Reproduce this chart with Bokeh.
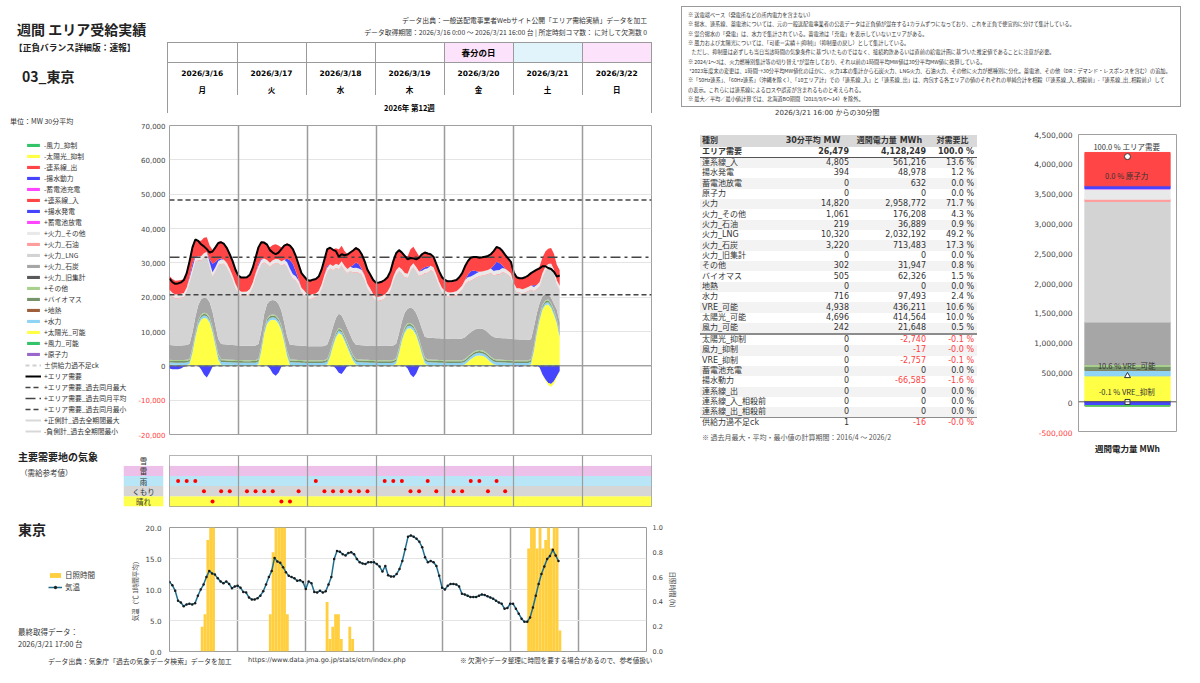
import pandas as pd
from bokeh.plotting import figure
from bokeh.models import (ColumnDataSource, Legend, LegendItem, Div, Range1d, FactorRange,
                          SingleIntervalTicker, FixedTicker, NumeralTickFormatter, LinearAxis,
                          DaysTicker, Span, Spacer)
from bokeh.layouts import row, column
from bokeh.core.properties import value
from bokeh.embed import file_html
from bokeh.resources import INLINE

# ------------------------------------------------------------------ data
dates = ["2026/3/16", "2026/3/17", "2026/3/18", "2026/3/19", "2026/3/20", "2026/3/21", "2026/3/22"]
weekdays = ["月", "火", "水", "木", "金", "土", "日"]
holiday_labels = ["", "", "", "", "春分の日", "", ""]
week_label = "2026年 第12週"

main_y_range = (-20000, 70000)
main_ticks_pos = [0, 10000, 20000, 30000, 40000, 50000, 60000, 70000]
main_ticks_neg = [-10000, -20000]
bar_y_range = (-500000, 4500000)
bar_ticks_pos = [0, 500000, 1000000, 1500000, 2000000, 2500000, 3000000, 3500000, 4000000, 4500000]
bar_ticks_neg = [-500000]

# area demand, MW, hourly readings from 3/16 0:00 to 3/21 16:00
d1 = [25400,24400,23900,24000,24300,25000,27000,30500,34500,36800,36400,35400,34800,34000,33000,33300,34500,35800,36000,35500,34300,32500,30500,28000]
d2 = [26300,25700,25700,25800,26500,28500,31500,34500,36000,35900,35300,33700,33000,32500,33000,34000,35000,35400,35000,34000,32000,29500,27000,26000]
d3 = [25000,24800,25100,25300,26000,28000,31000,34000,34400,33800,33400,31800,32500,32200,32400,33000,33600,34300,33800,32500,30500,28000,26500,25000]
d4 = [24200,24300,24500,25000,25800,27500,30500,32800,33700,33000,32000,31000,31400,31300,31000,31500,32500,33000,32700,32500,31800,29700,27500,25800]
d5 = [25000,24600,24600,24800,25000,25800,27000,29000,30500,31500,31700,31700,31500,31600,31800,32000,32500,33400,34600,34300,33500,32300,31300,30300]
d6 = [27200,25800,25500,25500,25800,26300,27000,27500,28000,28400,29000,29000,28500,28200,27400,26000,26300]

# wind (available)
w1 = [320,300,290,280,260,250,240,220,200,190,200,220,240,260,270,280,290,300,300,310,300,290,280,270]
w2 = [260,250,240,230,220,210,200,200,190,200,210,230,250,260,270,270,260,250,250,240,230,220,210,200]
w3 = [200,190,190,180,180,170,170,180,190,210,230,250,270,280,290,290,280,270,260,250,240,240,230,230]
w4 = [220,220,210,210,200,200,190,190,200,220,240,260,280,290,300,300,290,280,270,260,250,240,230,220]
w5 = [210,200,200,190,190,180,180,190,200,210,220,230,240,240,250,250,240,240,230,230,220,220,210,210]
w6 = [200,200,190,190,180,180,190,210,240,270,300,320,330,330,320,300,280]

# solar (available)
s1 = [0,0,0,0,0,0,0,300,3500,8000,11500,13200,13700,13500,12300,9500,5500,1500,0,0,0,0,0,0]
s2 = [0,0,0,0,0,0,0,300,4000,9000,12000,13000,13200,13000,12000,10000,6500,2500,0,0,0,0,0,0]
s3 = [0,0,0,0,0,0,0,300,2500,5500,8000,9300,8800,7000,5000,3000,1200,100,0,0,0,0,0,0]
s4 = [0,0,0,0,0,0,0,500,3500,7000,9500,10600,10700,10000,8500,6000,3000,500,0,0,0,0,0,0]
s5 = [0,0,0,0,0,0,0,300,1000,1700,2300,2700,2800,2700,2300,1600,800,200,0,0,0,0,0,0]
s6 = [0,0,0,0,0,0,300,4000,9000,13000,16000,17300,17500,16500,14500,12000,8000]

# hydro
hy1 = [650,640,630,630,640,660,700,760,800,780,740,720,700,700,720,760,800,820,820,800,760,720,690,670]
hy2 = [660,650,640,640,650,670,710,770,800,780,740,720,700,700,720,760,800,820,820,800,760,720,690,670]
hy3 = [660,650,640,640,650,670,710,760,790,770,740,720,700,700,720,750,790,810,810,790,750,720,690,670]
hy4 = [650,640,630,630,640,660,700,750,780,760,730,710,700,700,710,740,780,800,800,780,750,720,690,670]
hy5 = [660,650,640,640,650,660,690,720,750,760,760,760,760,760,760,770,790,810,810,790,760,730,700,680]
hy6 = [660,650,640,640,650,660,690,720,740,720,700,690,680,680,690,700,720]

# biomass
b1 = [490,490,485,485,490,495,500,505,510,510,510,510,510,510,510,510,510,510,510,505,500,500,495,490]
b2 = [490,490,490,485,490,495,500,505,510,515,515,515,510,510,510,510,510,510,505,505,500,500,495,495]
b3 = [495,490,490,490,490,495,500,505,510,510,510,510,505,505,505,505,510,510,510,505,500,500,495,490]
b4 = [490,490,490,490,490,495,500,505,505,510,510,510,510,510,510,510,510,510,505,505,500,500,495,490]
b5 = [490,485,485,485,485,490,495,500,500,505,505,505,505,505,505,505,505,505,505,500,500,495,495,490]
b6 = [490,490,485,485,485,490,495,500,505,505,505,505,505,505,505,505,505]

# other
o1 = [280,280,280,280,280,290,300,310,320,320,320,320,320,320,320,320,320,310,310,300,300,290,290,280]
o2 = [280,280,280,280,285,290,300,310,320,320,325,325,320,320,320,320,320,315,310,305,300,290,290,285]
o3 = [280,280,275,275,280,290,300,310,315,320,320,320,320,320,320,320,315,310,310,300,300,290,285,280]
o4 = [280,280,280,280,280,290,300,310,320,320,320,320,320,320,320,320,320,310,305,300,295,290,285,280]
o5 = [275,275,275,275,275,280,285,290,295,300,300,300,300,300,300,300,300,300,295,295,290,285,280,280]
o6 = [275,270,270,270,270,275,280,285,290,295,295,295,295,295,295,295,295]

# coal
c1 = [4300,4300,4250,4250,4250,4300,4300,4350,4400,4400,4400,4400,4400,4400,4400,4400,4400,4400,4400,4400,4350,4300,4300,4300]
c2 = [4200,4200,4200,4200,4200,4200,4200,4250,4250,4250,4200,4200,4200,4200,4200,4200,4200,4250,4250,4250,4200,4200,4200,4200]
c3 = [4100,4100,4100,4100,4100,4100,4100,4150,4150,4100,4100,4100,4100,4100,4100,4100,4100,4150,4150,4150,4100,4100,4100,4100]
c4 = [4200,4200,4200,4200,4200,4200,4200,4200,4200,4200,4200,4200,4500,4700,5000,5400,5800,6100,6300,6300,6300,6300,6300,6300]
c5 = [6300,6300,6250,6250,6250,6300,6300,6350,6350,6300,6300,6300,6300,6300,6300,6300,6300,6350,6350,6300,6300,6300,6250,6250]
c6 = [6100,6100,6100,6100,6100,6000,5800,5500,4500,3500,2500,1800,1500,1500,1800,2500,3000]

# LNG
l1 = [14850,14050,13600,13700,13800,13950,15450,17800,17550,16050,12950,11250,11650,12250,10250,10150,15550,21350,23250,23250,22400,20850,18950,16650]
l2 = [15050,14450,14450,14550,15250,17050,19750,21450,19450,14850,11550,9750,10250,10850,11750,13050,16950,20150,20750,19250,18750,17650,15550,14750]
l3 = [13850,13650,13950,14150,14850,16650,19350,21050,19750,16350,14550,12850,14450,14950,15950,18550,19950,21050,20950,20550,19050,16650,15350,13850]
l4 = [12950,13050,13250,13750,14550,16050,18750,20050,17950,13750,10250,8950,10650,12050,12150,12850,15650,18350,18850,19650,19250,17350,15150,13450]
l5 = [12650,12250,12250,12450,12650,13250,14150,15350,15350,14950,14750,14850,15150,15350,15950,16850,18050,17850,18250,18450,19050,18950,18450,17750]
l6 = [15050,13650,13650,13350,13650,14050,14350,10450,6950,4850,5450,6650,7550,8750,8750,7350,9250]

# oil
oi1 = [190,190,190,190,190,200,210,220,220,210,200,200,200,200,200,210,220,230,230,220,210,200,200,190]
oi2 = [190,190,190,190,190,200,210,220,230,220,200,200,200,200,200,210,220,230,230,220,210,200,200,190]
oi3 = [190,190,190,190,190,200,210,220,220,210,200,200,200,200,200,210,220,230,230,220,210,200,200,190]
oi4 = [190,190,190,190,190,200,210,220,220,210,200,200,200,200,200,210,220,230,230,220,210,200,200,190]
oi5 = [190,190,190,190,190,195,200,205,210,210,210,210,210,210,210,210,215,220,230,225,215,205,200,195]
oi6 = [190,190,190,190,190,195,200,210,210,200,190,190,190,190,190,200,210]

# thermal other
to1 = [1080,1070,1060,1060,1070,1090,1110,1130,1140,1130,1110,1100,1100,1100,1110,1120,1140,1150,1150,1140,1130,1110,1100,1090]
to2 = [1080,1070,1065,1060,1070,1090,1110,1130,1145,1135,1115,1100,1095,1100,1110,1125,1140,1150,1150,1140,1125,1110,1100,1090]
to3 = [1080,1070,1060,1060,1065,1085,1110,1130,1140,1130,1110,1100,1100,1100,1110,1120,1140,1150,1150,1140,1130,1110,1095,1085]
to4 = [1075,1065,1060,1055,1065,1085,1105,1125,1135,1125,1105,1095,1095,1095,1105,1115,1135,1145,1145,1135,1125,1105,1095,1085]
to5 = [1070,1060,1055,1055,1060,1070,1090,1100,1110,1110,1110,1110,1110,1110,1110,1115,1125,1140,1150,1145,1130,1110,1095,1085]
to6 = [1075,1065,1060,1060,1065,1075,1090,1100,1100,1090,1080,1075,1075,1075,1080,1090,1100]

# pumped storage generation
g1 = [0,0,0,0,0,0,0,500,1000,300,0,0,0,0,1000,2500,1500,500,300,0,0,0,0,0]
g2 = [0,0,0,0,0,0,0,500,300,0,0,0,0,0,0,0,0,1000,2500,3000,1500,300,0,0]
g3 = [0,0,0,0,0,0,0,500,0,0,0,0,0,0,0,0,800,1500,1200,300,0,0,0,0]
g4 = [0,0,0,0,0,0,0,0,0,0,0,0,0,0,0,0,500,500,500,0,0,0,0,0]
g5 = [0,0,0,0,0,0,0,0,800,1500,1300,600,0,0,0,0,0,1500,2500,2000,800,0,0,0]
g6 = [0,0,0,0,0,0,0,500,0,0,0,0,0,0,0,0,0]

# interconnection in
t1 = [4000,4000,4000,4000,4000,4000,4200,4500,5000,5000,4500,4500,4500,4200,4000,4000,4500,5000,5000,4800,4500,4300,4200,4000]
t2 = [4000,4000,4000,4000,4000,4200,4500,5000,5000,4800,4500,4500,4500,4300,4000,4000,4300,4500,4500,4500,4500,4300,4200,4000]
t3 = [4000,4000,4000,4000,4000,4200,4500,5000,5000,4800,4500,4500,4500,4300,4300,4300,4500,4500,4500,4500,4300,4200,4000,4000]
t4 = [4000,4000,4000,4000,4000,4200,4500,5000,5000,5000,5000,5000,5000,4800,4500,4500,4500,4500,4000,3500,3200,3000,3000,3000]
t5 = [3000,3000,3000,3000,3000,3200,3500,4000,4000,4000,4000,4200,4200,4200,4200,4200,4300,4500,4500,4500,4300,4000,3500,3200]
t6 = [3000,3000,3000,3000,3000,3200,3500,4000,4500,4500,4500,4500,4500,4500,4500,4500,4500]

# pumping load (negative)
p1 = [-800,-1000,-1000,-1000,-800,-300,0,0,0,0,0,-1000,-2500,-3400,-2000,-300,0,0,0,0,0,0,0,0]
p2 = [0,0,0,0,0,0,0,0,0,0,0,-800,-2200,-2900,-2000,-300,0,0,0,0,0,0,0,0]
p3 = [0,0,0,0,0,0,0,0,0,0,-800,-2000,-2400,-1200,0,0,0,0,0,0,0,0,0,0]
p4 = [0,0,0,0,0,0,0,0,0,0,0,-800,-2500,-3300,-2200,-300,0,0,0,0,0,0,0,0]
p5 = [0,0,0,0,0,0,0,0,0,0,0,0,0,0,0,0,0,0,0,0,0,0,0,0]
p6 = [0,0,-300,0,0,0,0,0,0,-500,-2500,-4000,-5000,-5300,-4500,-3000,-1500]

# solar curtailment (negative)
sc1 = [0,0,0,0,0,0,0,0,0,0,0,0,0,0,0,0,0,0,0,0,0,0,0,0]
sc2 = [0,0,0,0,0,0,0,0,0,0,0,0,0,0,0,0,0,0,0,0,0,0,0,0]
sc3 = [0,0,0,0,0,0,0,0,0,0,0,0,0,0,0,0,0,0,0,0,0,0,0,0]
sc4 = [0,0,0,0,0,0,0,0,0,0,0,0,0,0,0,0,0,0,0,0,0,0,0,0]
sc5 = [0,0,0,0,0,0,0,0,0,0,0,0,0,0,0,0,0,0,0,0,0,0,0,0]
sc6 = [0,0,0,0,0,0,0,0,0,0,0,-300,-600,-800,-700,-400,0]

ck_mw = [0, 0]                     # supply/demand check line (start, end)
past_max, past_avg, past_min = 48300, 31600, 20700

# weather (hours after 3/16 0:00)
wx_rain_h = [3, 6, 9, 51, 75, 78, 81, 90, 105, 108, 114]
wx_cloud_h = [12, 18, 21, 27, 30, 33, 36, 45, 54, 57, 60, 63, 66, 69, 84, 87, 93, 99, 102, 111, 117]
wx_sun_h = [15, 39, 42]
wx_factors = ["晴れ", "くもり", "雨", "雷", "雪"]

# Tokyo temperature, hourly
tc1 = [11.2,10.7,9.8,8.2,7.9,7.3,7.6,7.7,7.6,7.8,9.0,10.0,10.8,12.0,13.0,12.6,12.4,11.8,11.3,11.0,11.3,10.9,10.2,10.5]
tc2 = [10.6,10.3,9.6,9.5,8.7,8.4,8.4,8.6,9.0,9.7,10.8,12.0,13.0,15.1,14.5,14.3,13.6,12.8,12.2,12.0,11.8,11.4,11.5,11.2]
tc3 = [10.1,11.3,11.0,9.6,9.5,9.8,9.5,9.7,10.8,12.0,14.9,16.2,16.1,15.7,15.5,15.9,16.0,15.7,14.9,14.4,14.2,14.1,14.4,14.4]
tc4 = [14.4,14.1,13.7,12.9,13.8,12.3,12.1,12.1,12.5,13.3,14.6,16.5,18.5,18.7,18.5,18.2,17.7,16.8,15.2,14.4,14.6,14.4,13.8,12.2]
tc5 = [10.3,10.0,10.6,10.9,10.9,10.8,10.5,9.3,9.2,9.0,8.8,8.8,8.8,9.0,9.2,9.1,8.9,8.7,8.5,8.2,7.9,7.7,6.9,7.0]
tc6 = [7.7,7.7,6.9,6.1,5.3,4.8,4.8,5.5,7.1,9.0,10.9,12.5,13.7,14.9,15.4,16.4,15.5,14.6]

# sunshine duration (h) per hour
sun_h = [11,12,13,14,15, 35,36,37,38,39,40,41, 55,56,57,58,59,60,63,64,
         126,127,128,129,130,131,132,133,134,135,136,137]
sun_v = [0.2,0.3,0.9,1.0,1.0, 0.3,0.8,1.0,1.0,1.0,1.0,0.3, 0.4,0.1,0.2,0.3,0.3,0.1,0.2,0.1,
         0.83,1.0,1.0,0.83,1.0,0.83,0.9,1.0,0.83,1.0,1.0,0.17]

# weekly summary table
tbl_names = ["エリア需要", "連系線_入", "揚水発電", "蓄電池放電", "原子力", "火力", "火力_その他", "火力_石油",
             "火力_LNG", "火力_石炭", "火力_旧集計", "その他", "バイオマス", "地熱", "水力", "VRE_可能",
             "太陽光_可能", "風力_可能", "太陽光_抑制", "風力_抑制", "VRE_抑制", "蓄電池充電", "揚水動力",
             "連系線_出", "連系線_入_相殺前", "連系線_出_相殺前", "供給力過不足ck"]
tbl_mw = [26479, 4805, 394, 0, 0, 14820, 1061, 219, 10320, 3220, 0, 302, 505, 0, 716, 4938, 4696, 242,
          0, 0, 0, 0, 0, 0, 0, 0, 1]
tbl_mwh = [4128249, 561216, 48978, 632, 0, 2958772, 176208, 36889, 2032192, 713483, 0, 31947, 62326, 0,
           97493, 436211, 414564, 21648, -2740, -17, -2757, 0, -66585, 0, 0, 0, -16]
tbl_pct = ["100.0", "13.6", "1.2", "0.0", "0.0", "71.7", "4.3", "0.9", "49.2", "17.3", "0.0", "0.8", "1.5",
           "0.0", "2.4", "10.6", "10.0", "0.5", "-0.1", "-0.0", "-0.1", "0.0", "-1.6", "0.0", "0.0", "0.0", "-0.0"]

notes_lines = [
    "※ 送電端ベース（発電所などの所内電力を含まない）",
    "※ 揚水、連系線、蓄電池については、元の一般送配電事業者の公表データは正負値が混在する1カラムずつになっており、これを正負で便宜的に分けて集計している。",
    "※ 混合揚水の「発電」は、水力で集計されている。蓄電池は「充電」を表示していないエリアがある。",
    "※ 風力および太陽光については、「可能＝実績＋|抑制|」（抑制量の戻し）として集計している。",
    "&nbsp;&nbsp;&nbsp;ただし、抑制量は必ずしも当日当該時間の気象条件に基づいたものではなく、接続約款あるいは直前の給電計画に基づいた推定値であることに注意が必要。",
    "※ 2024/1～3は、火力燃種別集計等の切り替え*が混在しており、それ以前の1時間平均MW値は30分平均MW値に換算している。",
    "&nbsp;*2023年度末の変更は、1時間→30分平均MW値化のほかに、火力1本の集計から石炭火力、LNG火力、石油火力、その他に火力が燃種別に分化。蓄電池、その他（DR：デマンド・レスポンスを含む）の追加。",
    "※「50Hz連系」、「60Hz連系」（沖縄を除く）、「10エリア計」での「連系線_入」と「連系線_出」は、内包する各エリアの値のそれぞれの単純合計を相殺（「連系線_入_相殺前」-「連系線_出_相殺前」）して",
    "の表示。これらには連系線によるロスや誤差が含まれるものと考えられる。",
    "※ 最大／平均／最小値計算では、北海道BO期間（2018/9/6～14）を除外。",
]

# ------------------------------------------------------------------ styles
JP = "Noto Sans CJK JP"
NUM = "DejaVu Sans"
JPF = "'Noto Sans CJK JP', sans-serif"
NUMF = "'DejaVu Sans', 'Noto Sans CJK JP', sans-serif"
C_TIE, C_PUMP, C_BATT = "#ff4545", "#4545ff", "#ff45ff"
C_THOTH, C_OIL, C_LNG, C_COAL, C_THOLD = "#e9e9e9", "#ff9c9c", "#d3d3d3", "#a6a6a6", "#595959"
C_OTHER, C_BIO, C_GEO, C_HYDRO = "#a9d18e", "#76936a", "#9e5f3c", "#8fd3f5"
C_SOLAR, C_WIND, C_NUC = "#ffff45", "#33c46a", "#9966cc"
C_SUN, C_TEMP = "#ffcf3f", "#1f6e8e"
C_NEG = "#ff4040"
holiday_bg = ["#ffffff", "#ffffff", "#ffffff", "#ffffff", "#fce3fb", "#e1f4fb", "#fce3fb"]
wx_colors = ["#ffff4d", "#d6d6d6", "#b9e6f7", "#edc0ea", "#ffffff"]
GRID_DAY = "#9c9c9c"
NAN = float("nan")

week_start = pd.Timestamp("2026-03-16 00:00")
week_end = pd.Timestamp("2026-03-23 00:00")


def tdiv(text, left, top, size, bold=False, family=JPF, color="#222", extra=""):
    fw = "bold" if bold else "normal"
    return (f'<div style="position:absolute;left:{left}px;top:{top}px;font-family:{family};'
            f'font-size:{size}px;font-weight:{fw};color:{color};white-space:nowrap;line-height:1.2;{extra}">{text}</div>')


def mkdiv(html, w, h):
    return Div(text=f'<div style="position:relative;width:{w}px;height:{h}px;overflow:visible;">{html}</div>',
               width=w, height=h, margin=(0, 0, 0, 0))


def axis_style(ax, fs, standoff, color="#444"):
    ax.major_label_text_font = NUM
    ax.major_label_text_font_size = fs
    ax.major_label_text_color = color
    ax.major_tick_line_color = None
    ax.minor_tick_line_color = None
    ax.major_tick_out = 0
    ax.major_tick_in = 0
    ax.minor_tick_out = 0
    ax.minor_tick_in = 0
    ax.axis_line_color = None
    ax.major_label_standoff = standoff


def split_axis(yr, frame_h, top_b, bottom_b, split_px, width, ticks_pos, ticks_neg, fs, standoff):
    """Stand-alone y axis column: black labels for the upper part, red for the lower part."""
    per_px = (yr[1] - yr[0]) / frame_h
    split_v = yr[1] - split_px * per_px
    parts = []
    for rng, ticks, color, h, tb, bb in (((split_v, yr[1]), ticks_pos, "#444", top_b + split_px, top_b, 0),
                                         ((yr[0], split_v), ticks_neg, C_NEG, frame_h - split_px + bottom_b, 0, bottom_b)):
        f = figure(width=width, height=h, x_range=Range1d(0, 1), y_range=Range1d(*rng),
                   x_axis_location=None, toolbar_location=None, output_backend="svg",
                   min_border_left=width - 1, min_border_right=0, min_border_top=tb, min_border_bottom=bb)
        f.outline_line_color = None
        f.grid.visible = False
        ax = f.yaxis[0]
        ax.ticker = FixedTicker(ticks=ticks)
        ax.formatter = NumeralTickFormatter(format="0,0")
        axis_style(ax, fs, standoff, color)
        parts.append(f)
    return column(*parts)


# ------------------------------------------------------------------ header (left top)
top_cells, mid_cells = "", ""
for i in range(7):
    br = "border-right:1px solid #9a9a9a;" if i < 6 else ""
    top_cells += (f'<td style="width:69px;height:19px;padding:0;{br}border-bottom:1px solid #9a9a9a;'
                  f'background:{holiday_bg[i]};text-align:center;vertical-align:middle;font-weight:bold;'
                  f'font-size:8.5px;font-family:{JPF};">{holiday_labels[i]}</td>')
    mid_cells += (f'<td style="width:69px;height:33px;padding:0;{br}text-align:center;vertical-align:top;">'
                  f'<div style="margin-top:5px;font:bold 7.5px {NUMF};line-height:11px;">{dates[i]}</div>'
                  f'<div style="margin-top:5px;font:bold 7.5px {JPF};line-height:11px;">{weekdays[i]}</div></td>')
table_hdr = (f'<div style="position:absolute;left:167px;top:42px;width:485px;height:71px;box-sizing:border-box;'
             f'border-left:1px solid #9a9a9a;border-right:1px solid #9a9a9a;border-top:1px solid #9a9a9a;">'
             f'<table style="border-collapse:collapse;table-layout:fixed;width:483px;border-spacing:0;">'
             f'<tr>{top_cells}</tr><tr>{mid_cells}</tr></table>'
             f'<div style="position:absolute;left:0;top:59px;width:483px;text-align:center;font:bold 7.5px {JPF};'
             f'line-height:12px;">{week_label}</div></div>')
header_html = (
    tdiv("週間 エリア受給実績", 17, 21, 14, True)
    + tdiv("【正負バランス詳細版：速報】", 14, 43, 8.7, True)
    + tdiv("03_東京", 22, 68, 14, True)
    + f'<div style="position:absolute;right:33px;top:16px;font:6.8px {JPF};color:#333;white-space:nowrap;line-height:1.2;">データ出典：一般送配電事業者Webサイト公開「エリア需給実績」データを加工</div>'
    + f'<div style="position:absolute;right:33px;top:28px;font:6.8px {JPF};color:#333;white-space:nowrap;line-height:1.2;">データ取得期間：2026/3/16 0:00 ～ 2026/3/21 16:00 台 | 所定時刻コマ数： に対して欠測数 0</div>'
    + table_hdr
)
header_div = mkdiv(header_html, 680, 115)

# ------------------------------------------------------------------ main stacked chart
demand = d1 + d2 + d3 + d4 + d5 + d6
times = pd.date_range(week_start, periods=len(demand), freq="h")
src = ColumnDataSource(dict(
    t=times, demand=demand,
    wind=w1 + w2 + w3 + w4 + w5 + w6, solar=s1 + s2 + s3 + s4 + s5 + s6,
    hydro=hy1 + hy2 + hy3 + hy4 + hy5 + hy6, bio=b1 + b2 + b3 + b4 + b5 + b6,
    other=o1 + o2 + o3 + o4 + o5 + o6, coal=c1 + c2 + c3 + c4 + c5 + c6,
    lng=l1 + l2 + l3 + l4 + l5 + l6, oil=oi1 + oi2 + oi3 + oi4 + oi5 + oi6,
    thoth=to1 + to2 + to3 + to4 + to5 + to6, pgen=g1 + g2 + g3 + g4 + g5 + g6,
    tiein=t1 + t2 + t3 + t4 + t5 + t6, pload=p1 + p2 + p3 + p4 + p5 + p6,
    scurt=sc1 + sc2 + sc3 + sc4 + sc5 + sc6,
))

MAIN_FRAME_H, MAIN_TOP, MAIN_BOTTOM = 309, 10, 11
main = figure(width=511, height=330, x_axis_type="datetime", x_axis_location=None, y_axis_location=None,
              x_range=Range1d(week_start, week_end), y_range=Range1d(*main_y_range),
              toolbar_location=None, output_backend="svg",
              min_border_left=0, min_border_right=29, min_border_top=MAIN_TOP, min_border_bottom=MAIN_BOTTOM)
main.outline_line_color = "#a0a0a0"
main.xgrid.ticker = DaysTicker(days=list(range(1, 32)))
main.xgrid.grid_line_color = GRID_DAY
main.xgrid.grid_line_width = 1.5
main.xgrid.level = "overlay"
main.ygrid.ticker = FixedTicker(ticks=main_ticks_neg + main_ticks_pos)
main.ygrid.grid_line_color = "#e4e4e4"
main_yax = split_axis(main_y_range, MAIN_FRAME_H, MAIN_TOP, MAIN_BOTTOM, 270, 39,
                      main_ticks_pos, main_ticks_neg, "7px", 3)

pos_keys = ["wind", "solar", "hydro", "bio", "other", "coal", "lng", "oil", "thoth", "pgen", "tiein"]
pos_cols = [C_WIND, C_SOLAR, C_HYDRO, C_BIO, C_OTHER, C_COAL, C_LNG, C_OIL, C_THOTH, C_PUMP, C_TIE]
main.varea_stack(pos_keys, x="t", color=pos_cols, source=src)
main.varea_stack(["pload", "scurt"], x="t", color=[C_PUMP, C_SOLAR], source=src)

main.add_layout(Span(location=0, dimension="width", line_color="#808080", line_width=1))
span_t = pd.to_datetime([week_start, week_end]).to_numpy()
data_t = pd.to_datetime([times[0], times[-1]]).to_numpy()
CK_STYLE = dict(line_color="#555555", line_dash="4 3", line_width=1.3)
MAX_STYLE = dict(line_color="#444444", line_dash="5 3", line_width=1.5)
AVG_STYLE = dict(line_color="#444444", line_dash="10 4 3 4", line_width=1.5)
MIN_STYLE = dict(line_color="#444444", line_dash="5 3", line_width=1.5)
main.line(x=data_t, y=ck_mw, **CK_STYLE)
main.line(x=span_t, y=[past_max, past_max], **MAX_STYLE)
main.line(x=span_t, y=[past_avg, past_avg], **AVG_STYLE)
main.line(x=span_t, y=[past_min, past_min], **MIN_STYLE)
main.line("t", "demand", source=src, line_color="black", line_width=2)

# legend (own small figure with style-only renderers)
legf = figure(width=105, height=305, x_range=Range1d(0, 1), y_range=Range1d(0, 1), x_axis_location=None,
              y_axis_location=None, toolbar_location=None, output_backend="svg", min_border=0)
legf.outline_line_color = None
legf.grid.visible = False


def l_area(c):
    return legf.varea(x=[NAN], y1=[NAN], y2=[NAN], fill_color=c)


def l_line(**kw):
    return legf.line(x=[NAN], y=[NAN], **kw)


leg_specs = [
    ("-風力_抑制", l_area(C_WIND)), ("-太陽光_抑制", l_area(C_SOLAR)), ("-連系線_出", l_area(C_TIE)),
    ("-揚水動力", l_area(C_PUMP)), ("-蓄電池充電", l_area(C_BATT)), ("+連系線_入", l_area(C_TIE)),
    ("+揚水発電", l_area(C_PUMP)), ("+蓄電池放電", l_area(C_BATT)), ("+火力_その他", l_area(C_THOTH)),
    ("+火力_石油", l_area(C_OIL)), ("+火力_LNG", l_area(C_LNG)), ("+火力_石炭", l_area(C_COAL)),
    ("+火力_旧集計", l_area(C_THOLD)), ("+その他", l_area(C_OTHER)), ("+バイオマス", l_area(C_BIO)),
    ("+地熱", l_area(C_GEO)), ("+水力", l_area(C_HYDRO)), ("+太陽光_可能", l_area(C_SOLAR)),
    ("+風力_可能", l_area(C_WIND)), ("+原子力", l_area(C_NUC)),
    ("±供給力過不足ck", l_line(line_color="#cfcfcf", line_dash="4 3", line_width=2)),
    ("+エリア需要", l_line(line_color="black", line_width=2)),
    ("+エリア需要_過去同月最大", l_line(**MAX_STYLE)),
    ("+エリア需要_過去同月平均", l_line(**AVG_STYLE)),
    ("+エリア需要_過去同月最小", l_line(**MIN_STYLE)),
    ("+正側計_過去全期間最大", l_line(line_color="#d8d8d8", line_width=2)),
    ("-負側計_過去全期間最小", l_line(line_color="#d8d8d8", line_width=2)),
]
legf.add_layout(Legend(items=[LegendItem(label=value(n), renderers=[r]) for n, r in leg_specs],
                       location="top_left", ncols=1,
                       label_text_font=JP, label_text_font_size="6.8px", label_text_color="#333",
                       glyph_width=16, glyph_height=4, label_standoff=3, label_height=8,
                       spacing=1, padding=0, margin=0, border_line_color=None, background_fill_alpha=0))
unit_div = mkdiv(tdiv("単位：MW 30分平均", 10, 2, 7, color="#333"), 130, 25)
main_left = column(unit_div, row(Spacer(width=25, height=305), legf))

# ------------------------------------------------------------------ weather
wx_title = mkdiv(tdiv("主要需要地の気象", 18, 6, 10, True) + tdiv("（需給参考値）", 20, 23, 7.5, False, color="#333"), 123, 70)

label_fig = figure(width=46, height=70, x_range=Range1d(0, 1), y_range=FactorRange(factors=wx_factors),
                   x_axis_location=None, y_axis_location=None, toolbar_location=None, output_backend="svg",
                   min_border_left=0, min_border_right=6, min_border_top=10, min_border_bottom=9)
label_fig.outline_line_color = None
label_fig.grid.visible = False
label_fig.hbar(y=wx_factors, left=0, right=1, height=1, fill_color=wx_colors, line_color=None)
label_fig.text(x=0.5, y=wx_factors, text=wx_factors, text_align="center", text_baseline="middle",
               text_font=value(JP), text_font_size="7.5px", text_color="#333")

wx_t, wx_y = [], []
for cond, hrs in (("雨", wx_rain_h), ("くもり", wx_cloud_h), ("晴れ", wx_sun_h)):
    for h in hrs:
        wx_t.append(week_start + pd.Timedelta(hours=h))
        wx_y.append(cond)
wx = figure(width=511, height=70, x_axis_type="datetime", x_axis_location=None, y_axis_location=None,
            x_range=Range1d(week_start, week_end), y_range=FactorRange(factors=wx_factors),
            toolbar_location=None, output_backend="svg",
            min_border_left=0, min_border_right=29, min_border_top=10, min_border_bottom=9)
wx.outline_line_color = "#9c9c9c"
wx.ygrid.visible = False
wx.xgrid.ticker = DaysTicker(days=list(range(1, 32)))
wx.xgrid.grid_line_color = GRID_DAY
wx.xgrid.grid_line_width = 1.2
wx.xgrid.level = "overlay"
wx.hbar(y=wx_factors, left=pd.to_datetime([week_start] * 5).to_numpy(),
        right=pd.to_datetime([week_end] * 5).to_numpy(), height=1, fill_color=wx_colors, line_color=None)
wx.scatter(x=pd.to_datetime(wx_t).to_numpy(), y=wx_y, size=4, color="#ff0000", line_color=None)

# ------------------------------------------------------------------ temperature chart
temp_c = tc1 + tc2 + tc3 + tc4 + tc5 + tc6
temp_t = pd.date_range(week_start, periods=len(temp_c), freq="h")
sun_x = pd.to_datetime([week_start + pd.Timedelta(hours=h, minutes=30) for h in sun_h]).to_numpy()

tf = figure(width=560, height=140, x_axis_type="datetime", x_axis_location=None,
            x_range=Range1d(week_start, week_end), y_range=Range1d(0, 20),
            toolbar_location=None, output_backend="svg",
            min_border_left=49, min_border_right=29, min_border_top=12, min_border_bottom=4)
tf.outline_line_color = "#9c9c9c"
tf.xgrid.ticker = DaysTicker(days=list(range(1, 32)))
tf.xgrid.grid_line_color = GRID_DAY
tf.xgrid.grid_line_width = 1.5
tf.ygrid.grid_line_color = "#e4e4e4"
tf.extra_y_ranges = {"sun": Range1d(0, 1)}
ly = tf.yaxis[0]
ly.ticker = SingleIntervalTicker(interval=5)
ly.formatter = NumeralTickFormatter(format="0.0")
ly.axis_label = "気温（℃ 1時間平均）"
ry = LinearAxis(y_range_name="sun", ticker=SingleIntervalTicker(interval=0.2),
                formatter=NumeralTickFormatter(format="0.0"), axis_label="日照時間 (h)")
tf.add_layout(ry, "right")
for ax, fs, st in ((ly, "7.2px", 8), (ry, "6.5px", 6)):
    axis_style(ax, fs, st)
    ax.axis_label_text_font = JP
    ax.axis_label_text_font_size = "6.5px"
    ax.axis_label_text_font_style = "normal"
    ax.axis_label_text_color = "#444"
    ax.axis_label_standoff = 2
tf.vbar(x=sun_x, top=sun_v, width=3600000, y_range_name="sun", fill_color=C_SUN, line_color=None)
tf.line(temp_t, temp_c, line_color=C_TEMP, line_width=1.5)
tf.scatter(temp_t, temp_c, size=2.5, color="#1a1a1a", line_color=None)

lf = figure(width=72, height=30, x_range=Range1d(0, 1), y_range=Range1d(0, 1), x_axis_location=None,
            y_axis_location=None, toolbar_location=None, output_backend="svg", min_border=0)
lf.outline_line_color = None
lf.grid.visible = False
r_sun_leg = lf.vbar(x=[NAN], top=[NAN], width=0.5, fill_color=C_SUN, line_color=None)
r_tl_leg = lf.line(x=[NAN], y=[NAN], line_color=C_TEMP, line_width=1.5)
r_tm_leg = lf.scatter(x=[NAN], y=[NAN], size=3, color="#1a1a1a")
lf.add_layout(Legend(items=[LegendItem(label=value("日照時間"), renderers=[r_sun_leg]),
                            LegendItem(label=value("気温"), renderers=[r_tl_leg, r_tm_leg])],
                     location="top_left", ncols=1, label_text_font=JP, label_text_font_size="7.5px",
                     label_text_color="#333", glyph_width=14, glyph_height=6, label_standoff=3,
                     label_height=9, spacing=1, padding=0, margin=0, border_line_color=None,
                     background_fill_alpha=0))

tokyo_div = mkdiv(tdiv("東京", 18, 6, 14, True), 120, 54)
last_div = mkdiv(tdiv("最終取得データ：", 18, 28, 7.5, color="#333") + tdiv("2026/3/21 17:00 台", 18, 40, 7.5, color="#333"), 120, 56)
temp_left = column(tokyo_div, row(Spacer(width=48, height=30), lf), last_div)

footer_div = mkdiv(
    tdiv("データ出典：気象庁「過去の気象データ検索」データを加工", 48, 2, 6.8, color="#333")
    + tdiv("https://www.data.jma.go.jp/stats/etrn/index.php", 248, 2, 6.6, family=NUMF, color="#333")
    + tdiv("※ 欠測やデータ整理に時間を要する場合があるので、参考値扱い", 460, 2, 6.6, color="#333"),
    680, 28)

left_col = column(header_div, row(main_left, main_yax, main), row(wx_title, label_fig, wx),
                  row(temp_left, tf), footer_div)

# ------------------------------------------------------------------ right column: notes
notes_inner = "".join(f'<div style="white-space:nowrap;height:9.35px;line-height:9.35px;">{ln}</div>' for ln in notes_lines)
notes_html = (f'<div style="position:absolute;left:1px;top:6px;width:500px;height:101px;box-sizing:border-box;'
              f'border:1px solid #9a9a9a;padding:3px 0 0 6px;font-family:{JPF};font-size:5.2px;color:#333;'
              f'overflow:hidden;">{notes_inner}</div>'
              + tdiv("2026/3/21 16:00 からの30分間", 95, 109, 7, False, family=NUMF, color="#333"))
notes_div = mkdiv(notes_html, 520, 125)

# ------------------------------------------------------------------ right column: table
rows_html = (f'<tr style="height:10.35px;background:#d9d9d9;font-weight:bold;">'
             f'<td style="padding:0 2px;">種別</td><td style="text-align:center;">30分平均 MW</td>'
             f'<td style="text-align:center;">週間電力量 MWh</td><td style="text-align:center;">対需要比</td></tr>')
for i, name in enumerate(tbl_names):
    bg = "#f3f3f3" if i % 2 == 1 else "#ffffff"
    style = f"height:10.35px;background:{bg};"
    if i == 0:
        style += "font-weight:bold;border-bottom:1px solid #555;"
    if name == "風力_可能":
        style += "border-bottom:2px solid #8c8c8c;"
    if name == "連系線_出_相殺前":
        style += "border-bottom:1px solid #8c8c8c;"
    ce = C_NEG if tbl_mwh[i] < 0 else "#333"
    cp = C_NEG if tbl_pct[i].startswith("-") else "#333"
    rows_html += (f'<tr style="{style}"><td style="padding:0 2px;">{name}</td>'
                  f'<td style="text-align:right;padding:0 2px;">{tbl_mw[i]:,}</td>'
                  f'<td style="text-align:right;padding:0 2px;color:{ce};">{tbl_mwh[i]:,}</td>'
                  f'<td style="text-align:right;padding:0 3px 0 0;color:{cp};">{tbl_pct[i]} %</td></tr>')
table_html = (f'<table style="position:absolute;left:20px;top:10px;width:277px;border-collapse:collapse;'
              f'table-layout:fixed;font-family:{NUMF};font-size:8px;line-height:10px;color:#333;white-space:nowrap;">'
              f'<colgroup><col style="width:75px"><col style="width:76px"><col style="width:77px"><col style="width:49px"></colgroup>'
              f'{rows_html}</table>'
              + tdiv("※ 過去月最大・平均・最小値の計算期間：2016/4 ～ 2026/2", 22, 308, 7, color="#555"))
table_div = mkdiv(table_html, 310, 331)

# ------------------------------------------------------------------ right column: weekly stacked bar
mwh = dict(zip(tbl_names, tbl_mwh))
bar_cat = "週間電力量 MWh"
bpos_names = ["原子力", "風力_可能", "太陽光_可能", "水力", "地熱", "バイオマス", "その他", "火力_旧集計",
              "火力_石炭", "火力_LNG", "火力_石油", "火力_その他", "蓄電池放電", "揚水発電", "連系線_入"]
bpos_cols = [C_NUC, C_WIND, C_SOLAR, C_HYDRO, C_GEO, C_BIO, C_OTHER, C_THOLD, C_COAL, C_LNG, C_OIL,
             C_THOTH, C_BATT, C_PUMP, C_TIE]
bneg_names = ["蓄電池充電", "揚水動力", "連系線_出", "太陽光_抑制", "風力_抑制"]
bneg_cols = [C_BATT, C_PUMP, C_TIE, C_SOLAR, C_WIND]
bdata = {"x": [bar_cat]}
for n in bpos_names + bneg_names:
    bdata[n] = [mwh[n]]
bsrc = ColumnDataSource(bdata)

BAR_FRAME_H, BAR_TOP, BAR_BOTTOM = 298, 9, 24
bf = figure(width=122, height=331, x_range=FactorRange(factors=[bar_cat]), y_range=Range1d(*bar_y_range),
            y_axis_location=None, toolbar_location=None, output_backend="svg",
            min_border_left=0, min_border_right=24, min_border_top=BAR_TOP, min_border_bottom=BAR_BOTTOM)
bf.outline_line_color = "#a0a0a0"
bf.grid.visible = False
bf.vbar_stack(bpos_names, x="x", width=0.87, color=bpos_cols, source=bsrc)
bf.vbar_stack(bneg_names, x="x", width=0.87, color=bneg_cols, source=bsrc)
bf.add_layout(Span(location=0, dimension="width", line_color="#555555", line_width=1))
bar_yax = split_axis(bar_y_range, BAR_FRAME_H, BAR_TOP, BAR_BOTTOM, 285, 88,
                     bar_ticks_pos, bar_ticks_neg, "7.5px", 5)
bx = bf.xaxis[0]
bx.major_label_text_font = JP
bx.major_label_text_font_size = "8.5px"
bx.major_label_text_font_style = "bold"
bx.major_label_text_color = "#222"
bx.major_tick_line_color = None
bx.major_tick_out = 0
bx.axis_line_color = None
bx.major_label_standoff = 10

pct = dict(zip(tbl_names, tbl_pct))
lab_y = [mwh["エリア需要"], sum(mwh[n] for n in bpos_names[:-1]), mwh["VRE_可能"], mwh["VRE_抑制"]]
lab_t = [f'{pct["エリア需要"]} %  エリア需要', f'{pct["原子力"]} %  原子力',
         f'{pct["VRE_可能"]} %  VRE_可能', f'{pct["VRE_抑制"]} %  VRE_抑制']
bf.text(x=[bar_cat] * 4, y=lab_y, text=lab_t, text_align="center", text_baseline="middle", y_offset=-10,
        text_font=value(JP), text_font_size="7.5px", text_color="#333")
bf.scatter(x=[bar_cat], y=[mwh["エリア需要"]], marker="circle", size=6, fill_color="white", line_color="#333")
bf.scatter(x=[bar_cat], y=[mwh["VRE_可能"]], marker="triangle", size=6, fill_color="white", line_color="#333")
bf.scatter(x=[bar_cat], y=[mwh["VRE_抑制"]], marker="square", size=5, fill_color="white", line_color="#333")

right_col = column(notes_div, row(table_div, bar_yax, bf))

layout = row(left_col, right_col)
open("out.html", "w").write(file_html(layout, INLINE))
